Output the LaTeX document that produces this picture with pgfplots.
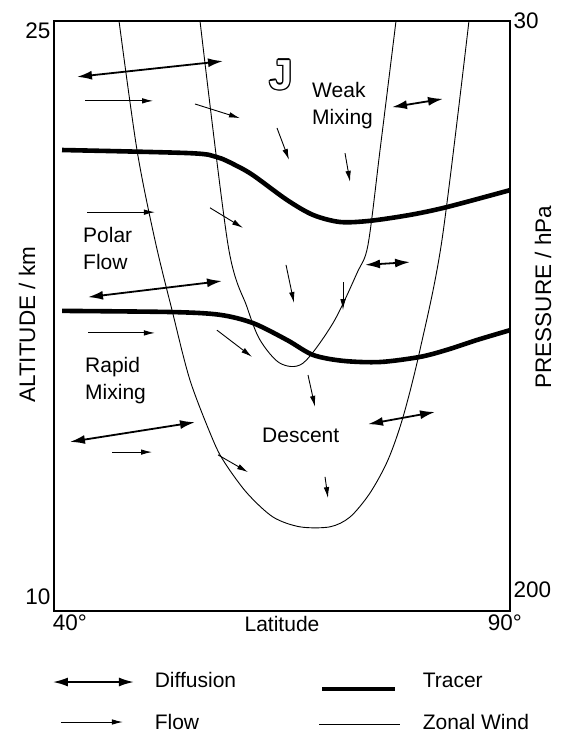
\documentclass[border=0pt]{standalone}
\usepackage{fontspec}
\setmainfont{Liberation Sans}
\usepackage{pgfplots}
\pgfplotsset{compat=1.18}
\usetikzlibrary{arrows.meta}

\newcommand{\lab}{\fontsize{21}{27}\selectfont}
\newcommand{\tlab}{\fontsize{22.5}{27}\selectfont}

\pgfplotsset{
  diff/.style={black, line width=1.8pt, {Latex[length=15pt,width=9pt]}-{Latex[length=15pt,width=9pt]}, forget plot},
  flow/.style={black, line width=0.9pt, -{Latex[length=11pt,width=5.5pt]}, forget plot},
  tracer/.style={black, line width=4.6pt, smooth, tension=0.5, forget plot},
  zonal/.style={black, line width=0.9pt, smooth, tension=0.5, forget plot},
}

\begin{document}
\begin{tikzpicture}[x=1pt,y=1pt]
\path[use as bounding box] (0,0) rectangle (569,-733);

\begin{axis}[
  at={(54pt,-611pt)}, anchor=south west,
  scale only axis, width=456pt, height=590pt,
  xmin=40, xmax=90, ymin=10, ymax=25,
  axis line style={line width=1.3pt},
  xtick={41.75,89.45}, xticklabels={40°,90°},
  ytick={10.36,24.75}, yticklabels={10,25},
  major tick length=0pt,
  tick label style={font=\tlab},
  xlabel={Latitude},
  xlabel style={at={(axis description cs:0.5,0)}, anchor=north, inner sep=0pt, yshift=-5pt, font=\lab},
  ylabel={ALTITUDE / km},
  ylabel style={at={(axis description cs:-0.0592,0.485)}, anchor=center, font=\tlab},
  no markers,
  legend columns=2, legend cell align=left,
  legend style={at={(axis description cs:-0.0044,-0.1)}, anchor=north west,
    draw=none, fill=none, inner sep=0pt, outer sep=0pt,
    column sep=0pt, row sep=20pt, font=\lab, nodes={inner sep=0pt}},
]

% Zonal wind contours
\addplot[zonal] coordinates {(47.13,25.00) (49.10,21.72) (51.07,19.43) (52.94,17.65) (54.91,15.87) (57.43,14.35) (58.75,13.76) (61.16,13.00) (64.01,12.39) (66.97,12.14) (70.26,12.14) (72.46,12.39) (74.65,13.00) (76.62,13.84) (78.27,14.93) (80.13,16.64) (82.54,19.43) (85.50,25.00)};
\addplot[zonal] coordinates {(56.01,25.00) (59.08,19.31) (61.16,17.73) (62.59,16.89) (64.78,16.30) (67.30,16.30) (70.59,17.32) (73.22,18.59) (74.43,19.31) (75.75,21.72) (77.50,25.00)};

% Tracer
\addplot[tracer] coordinates {(40.88,21.72) (54.91,21.64) (57.87,21.54) (59.85,21.34) (61.82,21.08) (65.55,20.45) (68.40,20.07) (71.36,19.89) (74.65,19.92) (79.04,20.07) (83.09,20.27) (90,20.70)};
\addplot[tracer] coordinates {(40.88,17.63) (53.05,17.60) (58.20,17.53) (61.82,17.32) (65.55,16.89) (68.40,16.51) (71.69,16.36) (75.75,16.33) (80.13,16.46) (83.09,16.64) (86.38,16.89) (90,17.14)};

% Diffusion
\addplot[diff] coordinates {(42.52,23.58) (58.53,23.98)};
\addplot[diff] coordinates {(77.06,22.81) (82.65,23.02)};
\addplot[diff] coordinates {(43.73,17.98) (58.42,18.39)};
\addplot[diff] coordinates {(74.10,18.80) (79.04,18.87)};
\addplot[diff] coordinates {(41.75,14.30) (55.46,14.80)};
\addplot[diff] coordinates {(74.43,14.75) (81.78,15.06)};

% Flow
\addplot[flow] coordinates {(43.40,22.97) (50.86,22.97)};
\addplot[flow] coordinates {(55.46,22.89) (60.39,22.53)};
\addplot[flow] coordinates {(64.45,22.28) (65.77,21.47)};
\addplot[flow] coordinates {(71.91,21.64) (72.46,20.91)};
\addplot[flow] coordinates {(43.62,20.14) (51.07,20.14)};
\addplot[flow] coordinates {(57.11,20.25) (60.72,19.74)};
\addplot[flow] coordinates {(65.44,18.80) (66.32,17.83)};
\addplot[flow] coordinates {(71.69,18.36) (71.69,17.65)};
\addplot[flow] coordinates {(43.73,17.07) (51.07,17.07)};
\addplot[flow] coordinates {(57.87,17.14) (61.71,16.46)};
\addplot[flow] coordinates {(67.85,16.00) (68.62,15.19)};
\addplot[flow] coordinates {(46.36,14.04) (50.75,14.04)};
\addplot[flow] coordinates {(57.98,13.97) (61.27,13.53)};
\addplot[flow] coordinates {(69.72,13.41) (70.04,12.87)};

% Legend
\addlegendimage{legend image code/.code={
  \path[draw=none,fill=none] (0pt,-11pt) rectangle (81pt,11pt);
  \draw[black, line width=1.8pt, {Latex[length=15pt,width=9pt]}-{Latex[length=15pt,width=9pt]}] (0pt,-1pt) -- (81pt,-1pt);}}
\addlegendentry{\makebox[184pt][l]{\hspace{20pt}Diffusion}}
\addlegendimage{legend image code/.code={
  \path[draw=none,fill=none] (0pt,-11pt) rectangle (81pt,11pt);
  \draw[black, line width=4.6pt] (3pt,-8pt) -- (76pt,-8pt);}}
\addlegendentry{\hspace{22pt}Tracer}
\addlegendimage{legend image code/.code={
  \path[draw=none,fill=none] (0pt,-11pt) rectangle (81pt,11pt);
  \draw[black, line width=0.9pt, -{Latex[length=11pt,width=5.5pt]}] (8pt,1pt) -- (70pt,1pt);}}
\addlegendentry{\makebox[184pt][l]{\hspace{20pt}Flow}}
\addlegendimage{legend image code/.code={
  \path[draw=none,fill=none] (0pt,-11pt) rectangle (81pt,11pt);
  \draw[black, line width=1pt] (0pt,-1pt) -- (81pt,-1pt);}}
\addlegendentry{\hspace{22pt}Zonal Wind}

% Region labels
\node[anchor=west, align=left, inner sep=0pt, font=\lab] at (axis cs:68.29,22.85) {Weak\\Mixing};
\node[anchor=west, align=left, inner sep=0pt, font=\lab] at (axis cs:43.18,19.22) {Polar\\Flow};
\node[anchor=west, align=left, inner sep=0pt, font=\lab] at (axis cs:43.40,15.86) {Rapid\\Mixing};
\node[anchor=west, inner sep=0pt, font=\lab] at (axis cs:62.81,14.47) {Descent};

% Outlined J (jet)
\node[black, font=\fontsize{42}{42}\selectfont\bfseries, xshift=1.3pt] at (axis cs:64.89,23.63) {J};
\node[black, font=\fontsize{42}{42}\selectfont\bfseries, xshift=-1.3pt] at (axis cs:64.89,23.63) {J};
\node[black, font=\fontsize{42}{42}\selectfont\bfseries, yshift=1.3pt] at (axis cs:64.89,23.63) {J};
\node[black, font=\fontsize{42}{42}\selectfont\bfseries, yshift=-1.3pt] at (axis cs:64.89,23.63) {J};
\node[black, font=\fontsize{42}{42}\selectfont\bfseries, xshift=0.92pt, yshift=0.92pt] at (axis cs:64.89,23.63) {J};
\node[black, font=\fontsize{42}{42}\selectfont\bfseries, xshift=-0.92pt, yshift=0.92pt] at (axis cs:64.89,23.63) {J};
\node[black, font=\fontsize{42}{42}\selectfont\bfseries, xshift=0.92pt, yshift=-0.92pt] at (axis cs:64.89,23.63) {J};
\node[black, font=\fontsize{42}{42}\selectfont\bfseries, xshift=-0.92pt, yshift=-0.92pt] at (axis cs:64.89,23.63) {J};
\node[white, font=\fontsize{42}{42}\selectfont\bfseries] at (axis cs:64.89,23.63) {J};
\end{axis}

\begin{axis}[
  at={(54pt,-611pt)}, anchor=south west,
  scale only axis, width=456pt, height=590pt,
  xmin=40, xmax=90, ymin=10, ymax=25,
  axis x line=none, axis y line*=right,
  axis line style={line width=1.3pt, -},
  ytick={10.53,25}, yticklabels={200,30},
  major tick length=0pt,
  tick label style={font=\tlab},
  ylabel={PRESSURE / hPa},
  ylabel style={at={(axis description cs:1.0724,0.5322)}, anchor=center, font=\tlab},
]
\end{axis}
\end{tikzpicture}
\end{document}
